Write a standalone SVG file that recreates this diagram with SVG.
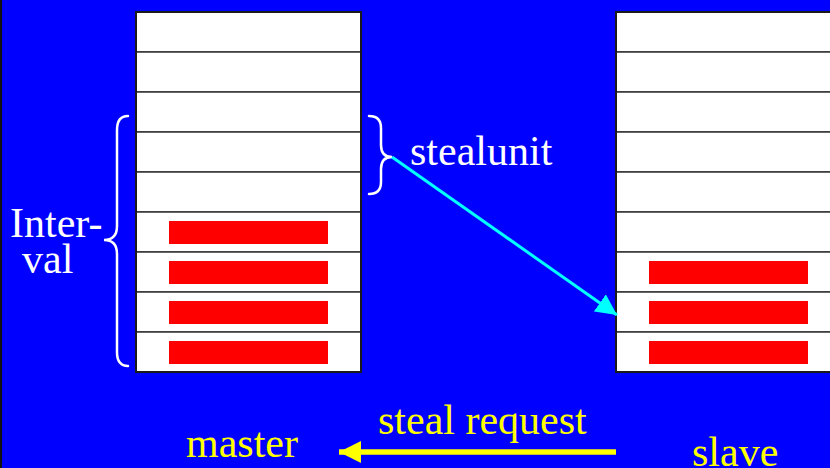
<svg xmlns="http://www.w3.org/2000/svg" width="830" height="468" viewBox="0 0 830 468">
  <defs>
    <style>
      .cell { fill: #ffffff; stroke: #333333; stroke-width: 1.5; }
      .frame { fill: none; stroke: #1a1a1a; stroke-width: 2; }
      .chunk { fill: #ff0000; }
      .brace { fill: none; stroke: #ffffff; stroke-width: 2.5; stroke-linecap: round; }
      .wtext { font-family: "Liberation Serif", "Times New Roman", serif; font-size: 42px; fill: #ffffff; }
      .ytext { font-family: "Liberation Serif", "Times New Roman", serif; font-size: 42px; fill: #ffff00; }
    </style>
    <marker id="cyanHead" viewBox="0 0 10 10" refX="10" refY="5" markerWidth="7" markerHeight="7" markerUnits="strokeWidth" orient="auto">
      <path d="M0,0 L10,5 L0,10 z" fill="#00ffff"/>
    </marker>
    <marker id="yellowHead" viewBox="0 0 10 10" refX="10" refY="5" markerWidth="4.2" markerHeight="4" markerUnits="strokeWidth" orient="auto">
      <path d="M0,0 L10,5 L0,10 z" fill="#ffff00"/>
    </marker>
  </defs>

  <!-- background -->
  <rect x="0" y="0" width="830" height="468" fill="#0000ff"/>
  <rect x="0" y="0" width="2" height="468" fill="#111111"/>

  <!-- master queue -->
  <g id="master-queue">
    <rect class="cell" x="136" y="12" width="225" height="40"/>
    <rect class="cell" x="136" y="52" width="225" height="40"/>
    <rect class="cell" x="136" y="92" width="225" height="40"/>
    <rect class="cell" x="136" y="132" width="225" height="40"/>
    <rect class="cell" x="136" y="172" width="225" height="40"/>
    <rect class="cell" x="136" y="212" width="225" height="40"/>
    <rect class="cell" x="136" y="252" width="225" height="40"/>
    <rect class="cell" x="136" y="292" width="225" height="40"/>
    <rect class="cell" x="136" y="332" width="225" height="40"/>
    <rect class="frame" x="136" y="12" width="225" height="360"/>
    <rect class="chunk" x="169" y="221" width="159" height="23"/>
    <rect class="chunk" x="169" y="261" width="159" height="23"/>
    <rect class="chunk" x="169" y="301" width="159" height="23"/>
    <rect class="chunk" x="169" y="341" width="159" height="23"/>
  </g>

  <!-- slave queue -->
  <g id="slave-queue">
    <rect class="cell" x="616" y="12" width="225" height="40"/>
    <rect class="cell" x="616" y="52" width="225" height="40"/>
    <rect class="cell" x="616" y="92" width="225" height="40"/>
    <rect class="cell" x="616" y="132" width="225" height="40"/>
    <rect class="cell" x="616" y="172" width="225" height="40"/>
    <rect class="cell" x="616" y="212" width="225" height="40"/>
    <rect class="cell" x="616" y="252" width="225" height="40"/>
    <rect class="cell" x="616" y="292" width="225" height="40"/>
    <rect class="cell" x="616" y="332" width="225" height="40"/>
    <rect class="frame" x="616" y="12" width="225" height="360"/>
    <rect class="chunk" x="649" y="261" width="159" height="23"/>
    <rect class="chunk" x="649" y="301" width="159" height="23"/>
    <rect class="chunk" x="649" y="341" width="159" height="23"/>
  </g>

  <!-- interval brace and label -->
  <g id="interval">
    <path class="brace" d="M128,116 Q117,116 117,130 L117,226 Q117,240 104,240 Q117,240 117,254 L117,352 Q117,366 128,366"/>
    <text class="wtext" x="10" y="237">Inter-</text>
    <text class="wtext" x="22" y="273">val</text>
  </g>

  <!-- stealunit brace and label -->
  <g id="stealunit">
    <path class="brace" d="M369,116 Q381,116 381,128 L381,145 Q381,157 392,157 Q381,157 381,169 L381,182 Q381,194 369,194"/>
    <text class="wtext" x="410" y="165">stealunit</text>
  </g>

  <!-- labels -->
  <g id="master-label">
    <text class="ytext" x="186" y="457">master</text>
  </g>
  <g id="slave-label">
    <text class="ytext" x="692" y="466">slave</text>
  </g>
  <g id="request-label">
    <text class="ytext" x="378" y="434">steal request</text>
  </g>

  <!-- connectors -->
  <g id="connectors">
    <line x1="392" y1="157" x2="617" y2="315" stroke="#00ffff" stroke-width="3" marker-end="url(#cyanHead)"/>
    <line x1="616" y1="452" x2="339" y2="452" stroke="#ffff00" stroke-width="5.5" marker-end="url(#yellowHead)"/>
  </g>
</svg>
